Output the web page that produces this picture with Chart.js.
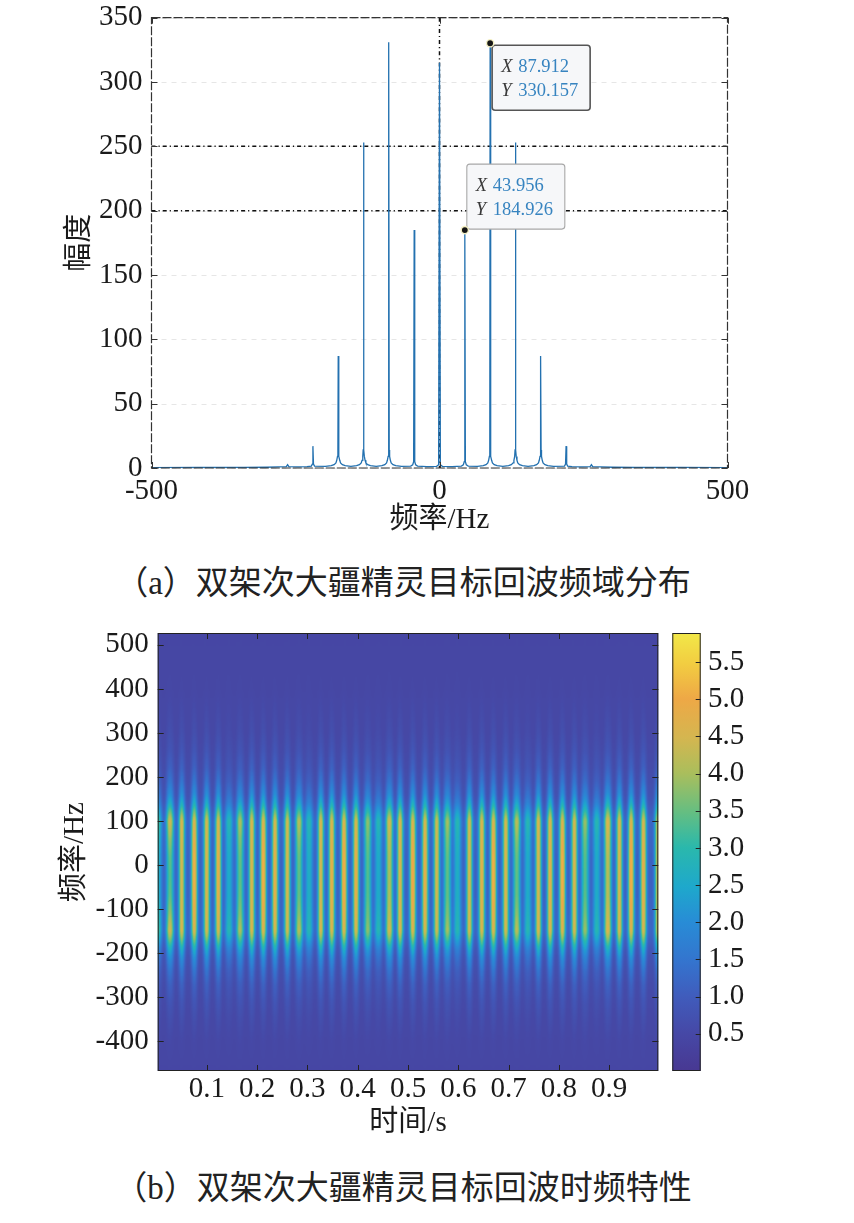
<!DOCTYPE html>
<html lang="zh">
<head>
<meta charset="utf-8">
<title>双架次大疆精灵目标回波</title>
<script src="https://cdn.jsdelivr.net/npm/chart.js@4.4.1/dist/chart.umd.min.js"></script>
<style>
  html, body { margin: 0; padding: 0; background: #fff; }
  body { width: 854px; height: 1223px; position: relative; overflow: hidden; }
  .box { position: absolute; left: 0; width: 854px; }
  #boxA { top: 0; height: 545px; }
  #boxB { top: 600px; height: 560px; }
  .caption { position: absolute; left: 0; width: 806px; text-align: center; color: #222;
    font: 33px 'Liberation Serif', 'Noto Sans CJK SC', serif; line-height: 40px; }
</style>
</head>
<body>
<div class="box" id="boxA"><canvas id="spectrumChart"></canvas></div>
<div class="caption" style="top:563px">（a）双架次大疆精灵目标回波频域分布</div>
<div class="box" id="boxB"><canvas id="tfChart"></canvas></div>
<div class="caption" style="top:1168px">（b）双架次大疆精灵目标回波时频特性</div>

<script>
// ---- (a) 频域分布：频率 / 幅度 ----
const freqHz = [
  -500, -420, -340, -300, -280,
  -266, -263.74, -261.5, -245, -230,
  -222.5, -220.8, -219.78, -218.8, -217, -198,
  -188, -183, -179.8, -178.4, -177.1, -176.4, -175.82, -175.2, -174.5, -173.2, -171.8, -168.6, -163.8, -153.8,
  -144, -139, -135.9, -134.5, -133.2, -132.5, -131.87, -131.2, -130.5, -129.2, -127.8, -124.7, -119.9, -109.9,
  -100, -95, -91.9, -90.5, -89.2, -88.5, -87.91, -87.3, -86.6, -85.3, -83.9, -80.8, -75.9, -65.9,
  -50, -46.5, -44.9, -43.96, -43.0, -41.4, -38, -22,
  -5, -1.5, 0, 1.5, 5, 22,
  38, 41.4, 43.0, 43.956, 44.9, 46.5, 50, 65.9,
  75.9, 80.8, 83.9, 85.3, 86.6, 87.3, 87.912, 88.5, 89.2, 90.5, 91.9, 95, 100, 109.9,
  119.9, 124.7, 127.8, 129.2, 130.5, 131.2, 131.87, 132.5, 133.2, 134.5, 135.9, 139, 144, 153.8,
  163.8, 168.6, 171.8, 173.2, 174.5, 175.2, 175.82, 176.4, 177.1, 178.4, 179.8, 183, 188, 198,
  217, 218.8, 219.78, 220.8, 222.5, 230,
  245, 261.5, 263.74, 266,
  280, 300, 340, 420, 500
];
const amplitude = [
  0.3, 0.4, 0.5, 0.6, 0.8,
  1.0, 2.5, 1.0, 0.9, 1.1,
  1.5, 3.0, 17, 3.0, 1.5, 1.2,
  1.8, 2.6, 4.0, 6.0, 9.0, 14, 87, 14, 9.0, 6.0, 4.0, 2.6, 1.8, 1.3,
  1.8, 2.6, 4.0, 6.0, 9.0, 14, 253, 14, 9.0, 6.0, 4.0, 2.6, 1.8, 1.3,
  1.8, 2.6, 4.0, 6.0, 9.0, 14, 331, 14, 9.0, 6.0, 4.0, 2.6, 1.8, 1.2,
  1.5, 2.5, 5, 185, 5, 2.5, 1.5, 1.0,
  1.3, 2.5, 315, 2.5, 1.3, 1.0,
  1.5, 2.5, 5, 184.926, 5, 2.5, 1.5, 1.2,
  1.8, 2.6, 4.0, 6.0, 9.0, 14, 330.157, 14, 9.0, 6.0, 4.0, 2.6, 1.8, 1.3,
  1.8, 2.6, 4.0, 6.0, 9.0, 14, 253, 14, 9.0, 6.0, 4.0, 2.6, 1.8, 1.3,
  1.8, 2.6, 4.0, 6.0, 9.0, 14, 87, 14, 9.0, 6.0, 4.0, 2.6, 1.8, 1.2,
  1.5, 3.0, 17, 3.0, 1.5, 1.1,
  0.9, 1.0, 2.5, 1.0,
  0.8, 0.6, 0.5, 0.4, 0.3
];
const freqTicksA = [-500, 0, 500];
const ampTicksA = [0, 50, 100, 150, 200, 250, 300, 350];
const refLevels = [250, 200];        // 水平点划线
const refFreqs = [0];                // 竖直点划线
const tipFreq = [87.912, 43.956];    // 数据提示
const tipAmp = [330.157, 184.926];

// ---- (b) 时频特性：每条亮纹的时间、中心值、两端值 ----
const stripeTimes = [0.0025, 0.0264, 0.0497, 0.0747, 0.0994, 0.1225, 0.1438, 0.1657, 0.1890, 0.2120,
  0.2353, 0.2598, 0.2831, 0.3030, 0.3263, 0.3482, 0.3726, 0.3965, 0.4198, 0.4409,
  0.4628, 0.4841, 0.5094, 0.5338, 0.5571, 0.5782, 0.5981, 0.6220, 0.6467, 0.6698,
  0.6944, 0.7163, 0.7382, 0.7593, 0.7826, 0.8071, 0.8310, 0.8522, 0.8755, 0.8974,
  0.9205, 0.9438, 0.9683, 0.997];
const stripeMid = [2.7, 3.4, 4.9, 5.6, 5.0, 5.3, 2.6, 3.5, 5.0, 5.6,
  5.3, 4.9, 3.5, 2.7, 4.9, 5.3, 5.6, 5.3, 3.4, 2.6,
  4.1, 5.0, 5.6, 5.3, 4.9, 3.5, 2.7, 4.9, 5.2, 5.6,
  5.0, 3.5, 2.6, 4.9, 5.2, 5.6, 5.0, 3.4, 2.6, 4.2,
  5.0, 5.6, 5.3, 4.9];
const stripeCap = [3.3, 4.6, 5.0, 5.0, 4.9, 4.9, 3.0, 4.2, 5.0, 5.0,
  4.9, 4.8, 4.3, 3.0, 5.0, 5.0, 5.0, 4.9, 3.9, 3.0,
  4.6, 5.0, 5.0, 4.9, 4.8, 4.1, 3.0, 4.9, 5.0, 5.0,
  4.9, 4.3, 3.0, 5.0, 5.0, 5.0, 4.9, 4.0, 3.0, 4.7,
  5.0, 5.0, 4.9, 4.8];
// 频率方向的剖面（相对两端值的比例，以及向中心值的过渡）
const freqRows  = [530, 400, 300, 260, 220, 190, 160, 140, 120, 100, 60, 20, -25, -70, -110, -150, -170, -190, -210, -240, -270, -310, -350, -400, -470];
const capWeight = [0, 0.01, 0.06, 0.10, 0.17, 0.26, 0.40, 0.55, 0.78, 1, 1, 1, 1, 1, 1, 1, 0.78, 0.55, 0.40, 0.26, 0.17, 0.10, 0.06, 0.02, 0];
const midWeight = [0, 0, 0, 0, 0, 0, 0, 0, 0, 0, 0.55, 0.9, 1, 0.9, 0.55, 0, 0, 0, 0, 0, 0, 0, 0, 0, 0];
const bgLevel = 0.45;
const gapCap = 1.2;
const gapMid = 1.1;
const cbMax = 5.89;
const timeTicksB = [0.1, 0.2, 0.3, 0.4, 0.5, 0.6, 0.7, 0.8, 0.9];
const freqTicksB = [-400, -300, -200, -100, 0, 100, 200, 300, 400, 500];
const cbTicks = [0.5, 1.0, 1.5, 2.0, 2.5, 3.0, 3.5, 4.0, 4.5, 5.0, 5.5];

const serif = "'Liberation Serif', 'Noto Sans CJK SC', serif";
const tickFont = { family: serif, size: 29 };

// parula 色图（略微偏灰，接近印刷效果）
const cmapStops = [
  [0.00, 72, 56, 146], [0.085, 70, 72, 166], [0.17, 64, 92, 188], [0.25, 52, 116, 206],
  [0.34, 40, 140, 214], [0.42, 30, 168, 204], [0.51, 42, 184, 172], [0.59, 100, 190, 130],
  [0.68, 170, 190, 92], [0.76, 212, 182, 80], [0.85, 238, 168, 70], [0.93, 242, 205, 65],
  [1.00, 242, 232, 72]
];

function cmap(f) {
  f = Math.max(0, Math.min(1, f));
  for (let i = 1; i < cmapStops.length; i++) {
    const a = cmapStops[i - 1], b = cmapStops[i];
    if (f <= b[0]) {
      const k = (f - a[0]) / (b[0] - a[0]);
      return [a[1] + (b[1] - a[1]) * k, a[2] + (b[2] - a[2]) * k, a[3] + (b[3] - a[3]) * k];
    }
  }
  const l = cmapStops[cmapStops.length - 1];
  return [l[1], l[2], l[3]];
}

function grey(v) {
  const k = Math.round(Math.max(0, Math.min(1, v / cbMax)) * 255);
  return "rgb(" + k + "," + k + "," + k + ")";
}

// 固定刻度，并去掉标签溢出带来的额外留白
function fixedTicks(list) {
  return s => { s.ticks = list.map(v => ({ value: v })); };
}
function fixWidth(w) {
  return s => { s.width = w; s.paddingTop = 0; s.paddingBottom = 0; };
}
function fixHeight(h) {
  return s => { s.height = h; s.paddingLeft = 0; s.paddingRight = 0; };
}

function drawInwardTicks(ctx, a, xs, ys, len) {
  ctx.beginPath();
  xs.ticks.forEach(t => {
    const px = Math.round(xs.getPixelForValue(t.value)) + 0.5;
    ctx.moveTo(px, a.bottom); ctx.lineTo(px, a.bottom - len);
    ctx.moveTo(px, a.top); ctx.lineTo(px, a.top + len);
  });
  ys.ticks.forEach(t => {
    const py = Math.round(ys.getPixelForValue(t.value)) + 0.5;
    ctx.moveTo(a.left, py); ctx.lineTo(a.left + len, py);
    ctx.moveTo(a.right, py); ctx.lineTo(a.right - len, py);
  });
  ctx.stroke();
}

const spectrumDecor = {
  id: "spectrumDecor",
  beforeDatasetsDraw(chart) {
    const { ctx, chartArea: a, scales: { x, y } } = chart;
    ctx.save();
    ctx.strokeStyle = "#e6e6e6";
    ctx.lineWidth = 1;
    ctx.setLineDash([5, 5]);
    y.ticks.forEach(t => {
      const py = Math.round(y.getPixelForValue(t.value)) + 0.5;
      ctx.beginPath(); ctx.moveTo(a.left, py); ctx.lineTo(a.right, py); ctx.stroke();
    });
    ctx.strokeStyle = "#111";
    ctx.lineWidth = 1.5;
    ctx.setLineDash([4, 3, 1.2, 3]);
    refLevels.forEach(v => {
      const py = y.getPixelForValue(v);
      ctx.beginPath(); ctx.moveTo(a.left, py); ctx.lineTo(a.right, py); ctx.stroke();
    });
    refFreqs.forEach(f => {
      const px = x.getPixelForValue(f);
      ctx.beginPath(); ctx.moveTo(px, a.top); ctx.lineTo(px, a.bottom); ctx.stroke();
    });
    ctx.restore();
  },
  afterDatasetsDraw(chart) {
    const { ctx, chartArea: a, scales: { x, y } } = chart;
    ctx.save();
    ctx.strokeStyle = "#333";
    ctx.lineWidth = 1.2;
    ctx.setLineDash([9, 2]);
    ctx.strokeRect(a.left, a.top, a.width, a.height);
    ctx.setLineDash([]);
    ctx.lineWidth = 1;
    drawInwardTicks(ctx, a, x, y, 6);

    // 数据提示框
    tipFreq.forEach((f, i) => {
      const px = x.getPixelForValue(f);
      const py = y.getPixelForValue(tipAmp[i]);
      const w = 98, h = 65;
      const left = px + 2;
      const top = i === 0 ? py + 2 : py - h - 1;
      ctx.beginPath();
      ctx.roundRect(left, top, w, h, 3);
      ctx.fillStyle = "#f6f7f9";
      ctx.fill();
      ctx.strokeStyle = i === 0 ? "#555" : "#a8a8a8";
      ctx.lineWidth = i === 0 ? 1.6 : 1.1;
      ctx.stroke();
      ctx.textBaseline = "middle";
      ctx.textAlign = "left";
      ctx.font = "italic 18.5px 'Liberation Serif'";
      ctx.fillStyle = "#3a3a3a";
      ctx.fillText("X", left + 9, top + 22);
      ctx.fillText("Y", left + 9, top + 46);
      ctx.font = "18.5px 'Liberation Serif'";
      ctx.fillStyle = "#3784c0";
      ctx.fillText(f.toFixed(3), left + 26, top + 22);
      ctx.fillText(tipAmp[i].toFixed(3), left + 26, top + 46);
      ctx.beginPath();
      ctx.arc(px, py, 3.6, 0, Math.PI * 2);
      ctx.fillStyle = "#151515";
      ctx.fill();
      ctx.strokeStyle = "#f4f0c4";
      ctx.lineWidth = 1.4;
      ctx.stroke();
    });
    ctx.restore();
  }
};

function createSpectrumChart() {
  const ctx = document.getElementById("spectrumChart");
  if (!ctx) return;

  new Chart(ctx, {
    type: "line",
    data: {
      datasets: [{
        data: freqHz.map((f, i) => ({ x: f, y: amplitude[i] })),
        borderColor: "#2371b0",
        borderWidth: 1.3,
        pointRadius: 0,
        tension: 0
      }]
    },
    options: {
      responsive: true,
      maintainAspectRatio: false,
      animation: false,
      layout: { padding: { top: 17.7, right: 126.5, left: 0, bottom: 0 } },
      plugins: { legend: { display: false }, tooltip: { enabled: false } },
      scales: {
        x: {
          type: "linear", min: -500, max: 500,
          afterBuildTicks: fixedTicks(freqTicksA),
          ticks: { font: tickFont, color: "#1a1a1a", padding: 6, maxRotation: 0, autoSkip: false },
          grid: { display: false, drawTicks: false },
          border: { display: false },
          title: { display: true, text: "频率/Hz", font: tickFont, color: "#1a1a1a", padding: { top: 0, bottom: 7.6 } },
          afterFit: fixHeight(77)
        },
        y: {
          min: 0, max: 350,
          afterBuildTicks: fixedTicks(ampTicksA),
          ticks: { font: tickFont, color: "#1a1a1a", padding: 9, autoSkip: false },
          grid: { display: false, drawTicks: false },
          border: { display: false },
          title: { display: true, text: "幅度", font: tickFont, color: "#1a1a1a", padding: { top: 62.6, bottom: 0 } },
          afterFit: fixWidth(151.5)
        }
      }
    },
    plugins: [spectrumDecor]
  });
}

const heatmapLayer = {
  id: "heatmapLayer",
  beforeDatasetsDraw(chart) {
    const { ctx, chartArea: a, scales: { x: xs, y: ys } } = chart;
    const pad = 10;
    const w = Math.ceil(a.width) + pad * 2;
    const h = Math.ceil(a.height) + pad * 2;
    const ox = a.left - pad, oy = a.top - pad;

    const columnGradient = (c, cap, mid) => {
      const y0 = ys.getPixelForValue(freqRows[0]) - oy;
      const y1 = ys.getPixelForValue(freqRows[freqRows.length - 1]) - oy;
      const g = c.createLinearGradient(0, y0, 0, y1);
      freqRows.forEach((f, i) => {
        const v = bgLevel + capWeight[i] * (cap - bgLevel) + midWeight[i] * (mid - cap);
        g.addColorStop((ys.getPixelForValue(f) - oy - y0) / (y1 - y0), grey(v));
      });
      return g;
    };

    // 先按数值画灰度
    const raw = document.createElement("canvas");
    raw.width = w; raw.height = h;
    const rc = raw.getContext("2d");
    rc.fillStyle = columnGradient(rc, gapCap, gapMid);
    rc.fillRect(0, 0, w, h);
    stripeTimes.forEach((t, i) => {
      const half = (stripeMid[i] >= 4.5 ? 0.0095 : 0.0125) / 2;
      const x0 = xs.getPixelForValue(t - half) - ox;
      const x1 = xs.getPixelForValue(t + half) - ox;
      rc.fillStyle = columnGradient(rc, stripeCap[i], stripeMid[i]);
      rc.fillRect(x0, 0, x1 - x0, h);
    });

    // 平滑后映射到色图
    const soft = document.createElement("canvas");
    soft.width = w; soft.height = h;
    const sc = soft.getContext("2d");
    sc.filter = "blur(1.7px)";
    sc.drawImage(raw, 0, 0);
    sc.filter = "none";
    const img = sc.getImageData(0, 0, w, h);
    const lut = [];
    for (let k = 0; k < 256; k++) lut.push(cmap(k / 255));
    const d = img.data;
    for (let p = 0; p < d.length; p += 4) {
      const c = lut[d[p]];
      d[p] = c[0]; d[p + 1] = c[1]; d[p + 2] = c[2]; d[p + 3] = 255;
    }
    sc.putImageData(img, 0, 0);

    ctx.save();
    ctx.beginPath();
    ctx.rect(a.left, a.top, a.width, a.height);
    ctx.clip();
    ctx.drawImage(soft, ox, oy);
    ctx.restore();
  },
  afterDraw(chart) {
    const { ctx, chartArea: a, scales } = chart;
    ctx.save();
    ctx.strokeStyle = "#222";
    ctx.lineWidth = 1;
    drawInwardTicks(ctx, a, scales.x, scales.y, 6);
    ctx.strokeRect(a.left + 0.5, a.top + 0.5, a.width - 1, a.height - 1);

    // 色条
    const cb = scales.cb;
    const left = a.right + 14, right = a.right + 42.4;
    const g = ctx.createLinearGradient(0, cb.getPixelForValue(0), 0, cb.getPixelForValue(cbMax));
    cmapStops.forEach(s => g.addColorStop(s[0], "rgb(" + s[1] + "," + s[2] + "," + s[3] + ")"));
    ctx.fillStyle = g;
    ctx.fillRect(left, cb.top, right - left, cb.bottom - cb.top);
    ctx.strokeRect(left + 0.5, cb.top + 0.5, right - left - 1, cb.bottom - cb.top - 1);
    ctx.beginPath();
    cb.ticks.forEach(t => {
      const py = Math.round(cb.getPixelForValue(t.value)) + 0.5;
      ctx.moveTo(right, py); ctx.lineTo(right - 5, py);
    });
    ctx.stroke();
    ctx.restore();
  }
};

function createTimeFreqChart() {
  const ctx = document.getElementById("tfChart");
  if (!ctx) return;

  new Chart(ctx, {
    type: "scatter",
    data: { datasets: [] },
    options: {
      responsive: true,
      maintainAspectRatio: false,
      animation: false,
      layout: { padding: { top: 33, right: 0, left: 0, bottom: 0 } },
      plugins: { legend: { display: false }, tooltip: { enabled: false } },
      scales: {
        x: {
          type: "linear", min: 0.002, max: 0.998,
          afterBuildTicks: fixedTicks(timeTicksB),
          ticks: { font: tickFont, color: "#1a1a1a", padding: 1, maxRotation: 0, autoSkip: false,
            callback: v => Number(v).toFixed(1) },
          grid: { display: false, drawTicks: false },
          border: { display: false },
          title: { display: true, text: "时间/s", font: tickFont, color: "#1a1a1a", padding: { top: 0, bottom: 19.6 } },
          afterFit: fixHeight(89)
        },
        y: {
          type: "linear", min: -468, max: 527,
          afterBuildTicks: fixedTicks(freqTicksB),
          ticks: { font: tickFont, color: "#1a1a1a", padding: 9, autoSkip: false,
            callback: v => String(v) },
          grid: { display: false, drawTicks: false },
          border: { display: false },
          title: { display: true, text: "频率/Hz", font: tickFont, color: "#1a1a1a", padding: { top: 58, bottom: 0 } },
          afterFit: fixWidth(157.7)
        },
        cb: {
          type: "linear", position: "right", min: 0, max: cbMax,
          afterBuildTicks: fixedTicks(cbTicks),
          ticks: { font: tickFont, color: "#1a1a1a", padding: 49.7, autoSkip: false,
            callback: v => Number(v).toFixed(1) },
          grid: { display: false, drawTicks: false },
          border: { display: false },
          afterFit: fixWidth(195.7)
        }
      }
    },
    plugins: [heatmapLayer]
  });
}

window.addEventListener("DOMContentLoaded", function() {
  createSpectrumChart();
  createTimeFreqChart();
});
</script>
</body>
</html>
